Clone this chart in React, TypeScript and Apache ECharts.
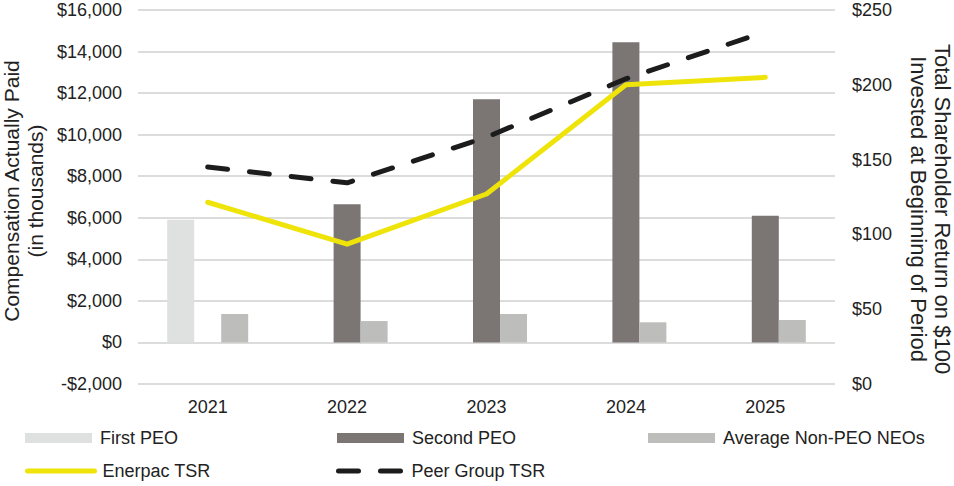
import React, { useEffect, useRef } from "react";
import * as echarts from "echarts";

const years = ["2021", "2022", "2023", "2024", "2025"];
const firstPeo = [5900, null, null, null, null];
const secondPeo = [null, 6650, 11700, 14450, 6100];
const avgNonPeo = [1370, 1030, 1370, 970, 1080];
const enerpacTsr = [121.5, 93.5, 127, 200, 205];
const peerTsr = [145, 134.5, 165, 204, 235.5];

const FONT = "'Liberation Sans', Arial, sans-serif";
const TXT = "#222222";
const YELLOW = "#efe40a";
const DARK = "#1c1c1c";

function money(v: number): string {
  const s = Math.abs(v).toLocaleString("en-US");
  return (v < 0 ? "-$" : "$") + s;
}

export default function App() {
  const ref = useRef<HTMLDivElement>(null);
  useEffect(() => {
    document.body.style.margin = "0";
    const chart = echarts.init(ref.current!, null, { renderer: "svg" });
    const legendBase = {
      orient: "horizontal" as const,
      padding: 0,
      itemWidth: 67,
      itemHeight: 10,
      textStyle: { fontFamily: FONT, fontSize: 18, color: TXT, padding: [0, 0, 0, 3] },
      selectedMode: false,
    };
    const hiddenSymbol = { color: "rgba(0,0,0,0)", borderWidth: 0, opacity: 0 };
    chart.setOption({
      animation: false,
      grid: { left: 138, right: 119, top: 10, bottom: 102, containLabel: false },
      xAxis: {
        type: "category",
        data: years,
        axisLine: { show: false },
        axisTick: { show: false },
        axisLabel: { fontFamily: FONT, fontSize: 18, color: TXT, margin: 14 },
      },
      yAxis: [
        {
          type: "value",
          min: -2000,
          max: 16000,
          interval: 2000,
          axisLine: { show: false },
          axisTick: { show: false },
          axisLabel: { fontFamily: FONT, fontSize: 18, color: TXT, margin: 16, formatter: (v: number) => money(v) },
          splitLine: { lineStyle: { color: "#dcdcdc", width: 2 } },
        },
        {
          type: "value",
          min: 0,
          max: 250,
          interval: 50,
          position: "right",
          axisLine: { show: false },
          axisTick: { show: false },
          axisLabel: { fontFamily: FONT, fontSize: 18, color: TXT, margin: 17, formatter: (v: number) => money(v) },
          splitLine: { show: false },
        },
      ],
      legend: [
        { ...legendBase, left: 25, top: 429, data: [{ name: "First PEO", icon: "rect" }] },
        { ...legendBase, left: 337, top: 429, data: [{ name: "Second PEO", icon: "rect" }] },
        { ...legendBase, left: 648, top: 429, data: [{ name: "Average Non-PEO NEOs", icon: "rect" }] },
        {
          ...legendBase,
          left: 25,
          top: 462,
          itemWidth: 67,
          itemHeight: 12,
          itemStyle: hiddenSymbol,
          lineStyle: { color: YELLOW, width: 5, cap: "round", type: "solid" },
          data: [{ name: "Enerpac TSR" }],
        },
        {
          ...legendBase,
          left: 336,
          top: 462,
          itemWidth: 65,
          itemHeight: 12,
          itemStyle: hiddenSymbol,
          lineStyle: { color: DARK, width: 5, cap: "round", type: [20, 22] },
          data: [{ name: "Peer Group TSR" }],
        },
      ],
      graphic: [
        {
          type: "text",
          x: 23,
          y: 191,
          rotation: Math.PI / 2,
          style: {
            text: "Compensation Actually Paid\n(in thousands)",
            fontFamily: FONT,
            fontSize: 21,
            lineHeight: 24,
            fill: TXT,
            align: "center",
            verticalAlign: "middle",
          },
        },
        {
          type: "text",
          x: 930,
          y: 209,
          rotation: -Math.PI / 2,
          style: {
            text: "Total Shareholder Return on $100\nInvested at Beginning of Period",
            fontFamily: FONT,
            fontSize: 22,
            lineHeight: 24,
            fill: TXT,
            align: "center",
            verticalAlign: "middle",
          },
        },
      ],
      series: [
        {
          name: "First PEO",
          type: "bar",
          data: firstPeo,
          barWidth: 27,
          barGap: "0%",
          itemStyle: { color: "#dfe0e0" },
        },
        {
          name: "Second PEO",
          type: "bar",
          data: secondPeo,
          barWidth: 27,
          barGap: "0%",
          itemStyle: { color: "#7b7574" },
        },
        {
          name: "Average Non-PEO NEOs",
          type: "bar",
          data: avgNonPeo,
          barWidth: 27,
          barGap: "0%",
          itemStyle: { color: "#bdbdbc" },
        },
        {
          name: "Enerpac TSR",
          type: "line",
          yAxisIndex: 1,
          data: enerpacTsr,
          symbol: "none",
          itemStyle: { color: YELLOW },
          lineStyle: { color: YELLOW, width: 5, cap: "round", join: "round" },
        },
        {
          name: "Peer Group TSR",
          type: "line",
          yAxisIndex: 1,
          data: peerTsr,
          symbol: "none",
          itemStyle: { color: DARK },
          lineStyle: { color: DARK, width: 5, type: [20, 22], cap: "round", join: "round" },
        },
      ],
    });
    return () => chart.dispose();
  }, []);
  return <div ref={ref} style={{ width: 954, height: 486 }} />;
}
